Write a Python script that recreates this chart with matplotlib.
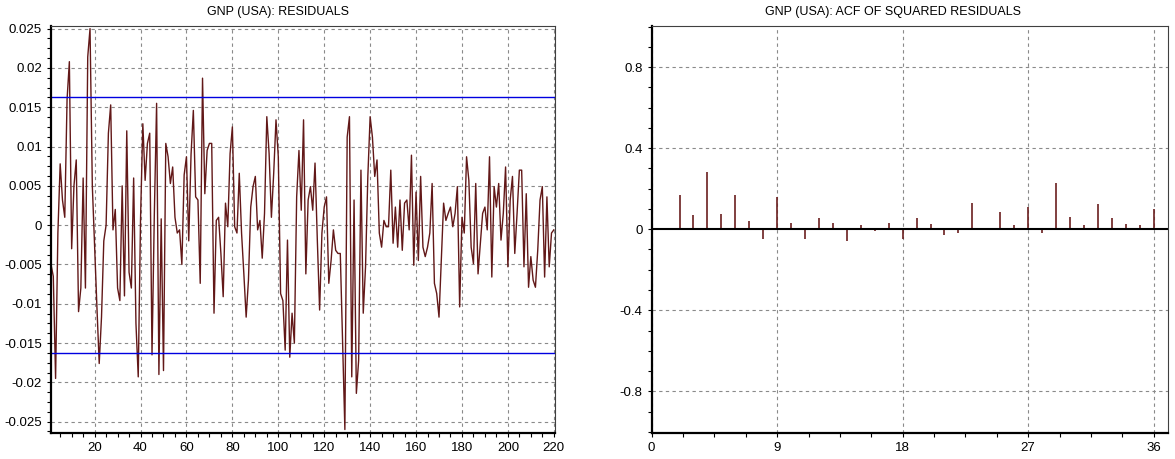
import numpy as np
import matplotlib
matplotlib.use('Agg')
import matplotlib.pyplot as plt
from matplotlib.ticker import MultipleLocator, FuncFormatter

# residual series (in units of 0.001), observations 1..220
resid_milli = [
    -5, -6.5, -19.5, -1, 7.8, 3.2, 1, 16, 20.8, -3,
    5, 8.3, -11, -8, 6, -8, 21.4, 25, 5, -2.8,
    -10.4, -17.6, -11.7, -2, 0, 11.7, 15.3, -0.6, 2, -8,
    -9.6, 5, -9, 12, -6, -8, 6, -12.5, -19.3, 0.8,
    12.9, 5.7, 10.4, 11.7, -16.5, 1.3, 15.5, -19, 0.8, -18.5,
    10.4, 8.7, 5.3, 7.4, 1, -1, -0.6, -5, 6.4, 8.7,
    -2, 9, 14.6, 3.6, 3.2, -7.4, 18.7, 4, 9.5, 10.4,
    10.4, -11.2, 0.6, 1, -3.6, -9.1, 2.8, -0.2, 9.1, 12.5,
    -0.2, -1, 6.6, -1, -6.2, -11.7, -7, 2.3, 4.9, 6.2,
    -0.6, 0.6, -4.2, 1.5, 13.8, 9.1, 1, 6.6, 13.4, 8.7,
    -8.7, -9.6, -15.9, -1.9, -16.8, -11.2, -15, 3.6, 9.5, 1.9,
    13.4, -6.2, 3.2, 4.9, 1.9, 7.9, -1.9, -10.8, -1, 2.3,
    3.6, -7.4, -4.5, -0.6, -3.2, -3.6, -3.6, -14.6, -26, 11.2,
    13.8, -19.3, 3.2, -21.4, -17.2, 7, -11.2, -5.3, 6.2, 13.8,
    11.2, 6.2, 8.3, -1, -2.8, 0.6, -0.2, -0.2, 7, -2.3,
    2.3, -2.8, 3.2, -3.2, 2.8, 3.2, -0.6, 8.9, -5.1, 4.2,
    -4.5, 6.2, -2.8, -4, -2.8, -1, 5.3, -7.4, -8.7, -11.7,
    -4.5, 2.8, 0.6, 1.5, 2.3, -0.2, 1.5, 4.9, -10.4, 1,
    -1, 8.7, 5.7, -2.8, -4.9, 5.3, -6.2, -2.3, 1.5, 2.3,
    -0.6, 8.7, -6.6, 4.9, 2.3, 5.3, -1.9, 1.5, 7.4, -5.3,
    3.2, 6.2, -3.6, 1.5, 7, 7, -5.3, 4, -7.9, -4,
    -7, -7.9, -3.2, 3.2, 4.9, -6.6, 3.6, -5.3, -1, -0.6,
]
band = 0.01626  # +/- band drawn on the residual plot

# autocorrelations of squared residuals, lags 1..36
acf_lags = list(range(1, 37))
acf_vals = [
    0.003, 0.170, 0.069, 0.283, 0.076, 0.170, 0.041, -0.050, 0.157, 0.031,
    -0.050, 0.055, 0.031, -0.060, 0.020, -0.008, 0.031, -0.046, 0.055, 0.026,
    -0.026, -0.017, 0.131, -0.003, 0.086, 0.020, 0.111, -0.017, 0.228, 0.061,
    0.020, 0.126, 0.055, 0.026, 0.020, 0.101,
]

resid = np.array(resid_milli) / 1000.0
obs = np.arange(1, len(resid) + 1)

plt.rcParams['font.family'] = ['Liberation Sans', 'DejaVu Sans']
fig = plt.figure(figsize=(11.75, 4.59), dpi=100)

line_col = '#621818'
grid_kw = dict(color='#8a8a8a', linestyle=(0, (3, 3)), linewidth=0.8)


def fmt(ndig):
    # plain labels, no trailing zeros and no "-0"
    return FuncFormatter(lambda v, p: '%g' % (round(v, ndig) + 0.0))


def style_axes(ax):
    for side in ['left', 'bottom']:
        ax.spines[side].set_linewidth(1.6)
        ax.spines[side].set_color('black')
    for side in ['top', 'right']:
        ax.spines[side].set_linewidth(0.8)
        ax.spines[side].set_color('#404040')
    ax.tick_params(which='both', direction='out', length=3, width=0.8,
                   labelsize=9.5, pad=3.5, top=False, right=False)
    ax.set_axisbelow(True)


# residuals
ax1 = fig.add_axes([0.0434, 0.056, 0.4289, 0.8874])
ax1.plot(obs, resid, color=line_col, linewidth=1.0)
ax1.axhline(band, color='#0000e0', linewidth=1.0)
ax1.axhline(-band, color='#0000e0', linewidth=1.0)
ax1.set_xlim(1, 220.5)
ax1.set_ylim(-0.02648, 0.02534)
ax1.xaxis.set_major_locator(MultipleLocator(20))
ax1.xaxis.set_minor_locator(MultipleLocator(5))
ax1.yaxis.set_major_locator(MultipleLocator(0.005))
ax1.yaxis.set_minor_locator(MultipleLocator(0.00125))
ax1.yaxis.set_major_formatter(fmt(4))
ax1.grid(True, which='major', **grid_kw)
style_axes(ax1)

# ACF of squared residuals
ax2 = fig.add_axes([0.5546, 0.056, 0.4391, 0.8874])
ax2.vlines(acf_lags, 0, acf_vals, color='#6b1f1f', linewidth=1.2)
ax2.axhline(0, color='black', linewidth=1.5)
ax2.set_xlim(0, 37)
ax2.set_ylim(-1.007, 1.003)
ax2.set_xticks([0, 9, 18, 27, 36])
ax2.xaxis.set_minor_locator(MultipleLocator(2.25))
ax2.set_yticks([-0.8, -0.4, 0, 0.4, 0.8])
ax2.yaxis.set_minor_locator(MultipleLocator(0.1))
ax2.yaxis.set_major_formatter(fmt(2))
ax2.grid(True, which='major', **grid_kw)
ax2.yaxis.get_gridlines()[2].set_visible(False)
style_axes(ax2)

fig.text(0.2366, 0.974, 'GNP (USA): RESIDUALS', ha='center', va='center', fontsize=9)
fig.text(0.7596, 0.974, 'GNP (USA): ACF OF SQUARED RESIDUALS', ha='center', va='center', fontsize=9)

fig.savefig('out.png', dpi=100)
